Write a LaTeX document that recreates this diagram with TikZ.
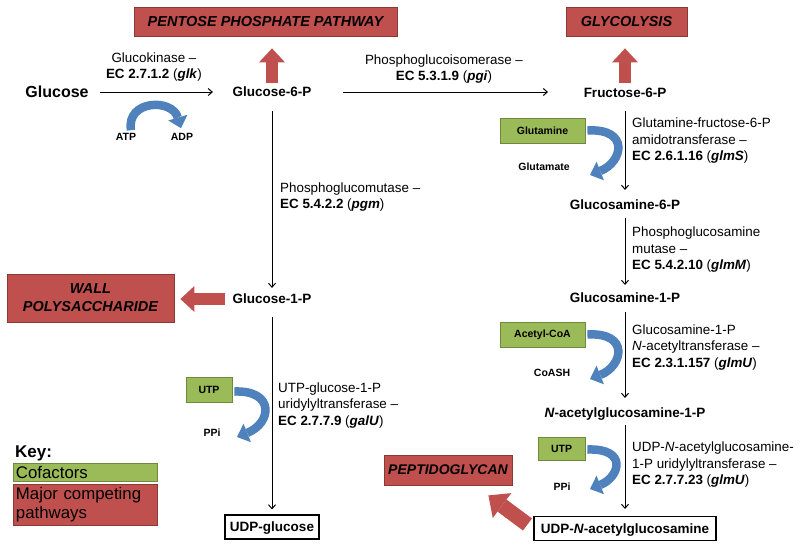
\documentclass[tikz,border=0pt]{standalone}
\usepackage{fontspec}
\setmainfont{Liberation Sans}
\usetikzlibrary{arrows.meta}
\definecolor{boxred}{HTML}{C0504D}
\definecolor{boxredline}{HTML}{8C3836}
\definecolor{boxgreen}{HTML}{9BBB59}
\definecolor{boxgreenline}{HTML}{71893F}
\definecolor{arcblue}{HTML}{4F81BD}
\begin{document}
\begin{tikzpicture}[x=1pt,y=-1pt,
  met/.style={font=\fontsize{13.5}{15}\selectfont\bfseries, inner sep=2pt, text height=9.7pt, text depth=0pt},
  metbox/.style={met, draw=black, line width=1.1pt, inner sep=0pt, minimum height=24pt},
  lab/.style={font=\fontsize{13.4}{16.5}\selectfont, align=left, anchor=west, inner sep=0pt},
  labc/.style={font=\fontsize{13.4}{16.5}\selectfont, align=center, inner sep=0pt},
  small/.style={font=\fontsize{10.5}{12}\selectfont\bfseries, inner sep=1pt},
  cofbox/.style={small, fill=boxgreen, draw=boxgreenline, line width=0.8pt, inner sep=0pt},
  redbox/.style={fill=boxred, draw=boxredline, line width=0.8pt, inner sep=0pt, align=center,
     font=\fontsize{14.5}{18}\selectfont\bfseries\itshape},
  flow/.style={draw=black, line width=1pt, -{Straight Barb[length=4pt,width=7pt]}},
  fatarrow/.style={draw=boxred, line width=12.5pt, -{Triangle[width=26pt,length=14pt,line width=0pt]}},
  bluearc/.style={draw=arcblue, line width=8.5pt, -{Triangle[width=20pt,length=11pt,line width=0pt]}},
  keytext/.style={font=\fontsize{16.8}{19.5}\selectfont, align=left, text width=138pt, inner xsep=3pt, inner ysep=0pt}
]
\fill[white] (0,0) rectangle (800,547);
\useasboundingbox (0,0) rectangle (800,547);

% competing pathway boxes
\node[redbox, minimum width=263pt, minimum height=29pt] (ppp) at (265.5,21.5) {PENTOSE PHOSPHATE PATHWAY};
\node[redbox, minimum width=121pt, minimum height=29pt] (glyc) at (626.5,21.5) {GLYCOLYSIS};
\node[redbox, minimum width=167pt, minimum height=48pt] (wall) at (90.5,298) {WALL\\POLYSACCHARIDE};
\node[redbox, minimum width=128pt, minimum height=30pt, font=\fontsize{14}{17}\selectfont\bfseries\itshape] (pep) at (448,470) {PEPTIDOGLYCAN};

% metabolites
\node[met, font=\fontsize{16}{18}\selectfont\bfseries, text height=11.5pt] (glc) at (57,92) {Glucose};
\node[met] (g6p) at (272,92) {Glucose-6-P};
\node[met] (f6p) at (625,93) {Fructose-6-P};
\node[met] (glcn6p) at (625,205) {Glucosamine-6-P};
\node[met] (g1p) at (272,299) {Glucose-1-P};
\node[met] (glcn1p) at (625,298) {Glucosamine-1-P};
\node[met] (nag1p) at (625,413) {\textit{N}-acetylglucosamine-1-P};
\node[metbox, minimum width=94pt] (udpglc) at (272,527) {UDP-glucose};
\node[metbox, minimum width=182pt] (udpnag) at (625,528.5) {UDP-\textit{N}-acetylglucosamine};

% main pathway connectors
\draw[flow, shorten <=9.5pt, shorten >=17.5pt] (glc) -- (g6p);
\draw[flow, shorten <=29.5pt, shorten >=33.5pt] (g6p) -- (g6p -| f6p.west);
\draw[flow, shorten <=12pt, shorten >=4pt] (g6p) -- (g1p);
\draw[flow, shorten <=11pt, shorten >=5pt] (g1p) -- (udpglc);
\draw[flow, shorten <=11pt, shorten >=8pt] (f6p) -- (glcn6p);
\draw[flow, shorten <=6pt, shorten >=6pt] (glcn6p) -- (glcn1p);
\draw[flow, shorten <=7pt, shorten >=8pt] (glcn1p) -- (nag1p);
\draw[flow, shorten <=5pt, shorten >=7pt] (nag1p) -- (udpnag);

% competing pathway arrows
\draw[fatarrow, shorten <=2pt, shorten >=12pt] (g6p.north) -- (g6p.north |- ppp.south);
\draw[fatarrow, shorten <=3pt, shorten >=12pt] (f6p.north) -- (f6p.north |- glyc.south);
\draw[fatarrow, shorten <=5.5pt, shorten >=6pt] (g1p.west) -- (g1p.west -| wall.east);
\draw[fatarrow, line width=15pt, -{Triangle[width=31pt,length=17pt,line width=0pt]}]
  ([shift={(-6,-4)}]udpnag.west) -- ([shift={(-24,10)}]pep.south east);

% enzyme labels
\node[labc] (lglk) at (154,67) {Glucokinase –\\\textbf{EC 2.7.1.2} (\textbf{\textit{glk}})};
\node[labc] (lpgi) at (444,69) {Phosphoglucoisomerase –\\\textbf{EC 5.3.1.9} (\textbf{\textit{pgi}})};
\node[lab] (lpgm) at (280,197) {Phosphoglucomutase –\\\textbf{EC 5.4.2.2} (\textbf{\textit{pgm}})};
\node[lab] (lgalu) at (278,405.5) {UTP-glucose-1-P\\uridylyltransferase –\\\textbf{EC 2.7.7.9} (\textbf{\textit{galU}})};
\node[lab] (lglms) at (632,141) {Glutamine-fructose-6-P\\amidotransferase –\\\textbf{EC 2.6.1.16} (\textbf{\textit{glmS}})};
\node[lab] (lglmm) at (632,250) {Phosphoglucosamine\\mutase –\\\textbf{EC 5.4.2.10} (\textbf{\textit{glmM}})};
\node[lab] (lglmu1) at (632,347.5) {Glucosamine-1-P\\\textit{N}-acetyltransferase –\\\textbf{EC 2.3.1.157} (\textbf{\textit{glmU}})};
\node[lab] (lglmu2) at (632,465) {UDP-\textit{N}-acetylglucosamine-\\1-P uridylyltransferase –\\\textbf{EC 2.7.7.23} (\textbf{\textit{glmU}})};

% cofactors
\node[small] (atp) at (126,137) {ATP};
\node[small] (adp) at (182,137) {ADP};
\draw[bluearc] ([shift={(5,-2)}]atp.north) .. controls (126,100) and (172,98) .. ([shift={(-1,-4)}]adp.north);

\node[cofbox, minimum width=85pt, minimum height=25pt] (gln) at (542.5,130.5) {Glutamine};
\node[small] (glu) at (544,167) {Glutamate};
\draw[bluearc] ([shift={(2,0)}]gln.east) .. controls (630,128) and (623,162) .. (590,175);

\node[cofbox, minimum width=85pt, minimum height=25pt] (acoa) at (542.5,334.5) {Acetyl-CoA};
\node[small] (coash) at (552,373) {CoASH};
\draw[bluearc] ([shift={(2,0)}]acoa.east) .. controls (630,332) and (623,366) .. (590,379);

\node[cofbox, minimum width=47pt, minimum height=23pt] (utpr) at (561.5,448.5) {UTP};
\node[small] (ppir) at (562,487) {PPi};
\draw[bluearc] ([shift={(2,1)}]utpr.east) .. controls (628,448) and (620,477) .. (590,489);

\node[cofbox, minimum width=46pt, minimum height=25pt] (utpl) at (209,389.5) {UTP};
\node[small] (ppil) at (212,433) {PPi};
\draw[bluearc] ([shift={(2,2)}]utpl.east) .. controls (275,390) and (272,423) .. (237,437);

% key
\node[font=\fontsize{17}{19}\selectfont\bfseries, anchor=west, inner sep=0pt] (key) at (15,453) {Key:};
\node[keytext, fill=boxgreen, draw=boxgreenline, line width=0.8pt, minimum height=18pt] (kcof) at (85,472) {Cofactors};
\node[keytext, fill=boxred, draw=boxredline, line width=0.8pt, minimum height=41pt] (kred) at (85,504.5) {Major competing\\pathways};
\end{tikzpicture}
\end{document}
